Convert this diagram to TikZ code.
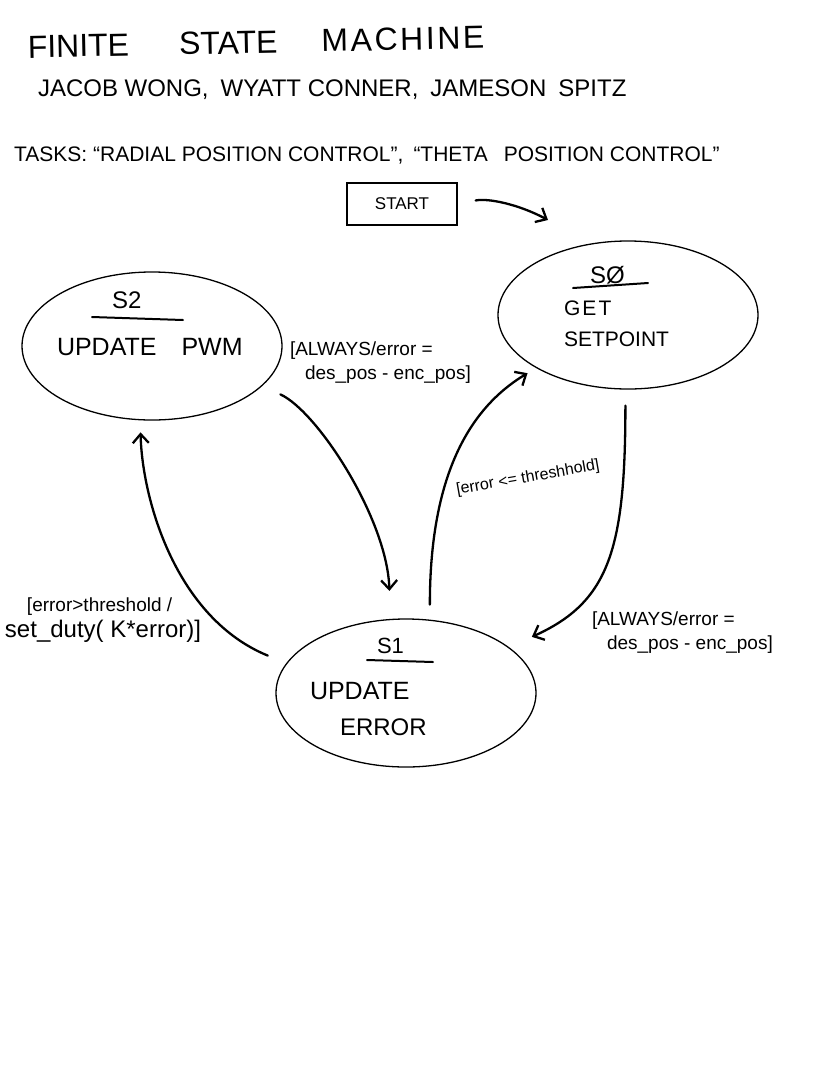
\documentclass[tikz,border=0pt]{standalone}
\usepackage{fontspec}
\setmainfont{Liberation Sans}
\usetikzlibrary{shapes.geometric,arrows.meta}
\begin{document}
\begin{tikzpicture}[x=1pt,y=-1pt,
  state/.style={ellipse,draw,line width=1.3pt,minimum width=260pt,minimum height=148pt,inner sep=0pt},
  hand/.style={inner sep=0pt,outer sep=0pt,text=black},
  conn/.style={line width=2.3pt,line cap=round,-{Straight Barb[length=9pt,width=16pt]}},
  uline/.style={line width=2pt,line cap=round},
  startbox/.style={draw,line width=2pt,minimum width=110pt,minimum height=42pt,inner sep=0pt},
  lbl/.style={hand,anchor=north west,align=left,font=\fontsize{19}{24}\selectfont}]
\fill[white] (0,0) rectangle (834,1077);
\useasboundingbox (0,0) rectangle (834,1077);

% header
\node[hand,anchor=base west,rotate=1.2] (title) at (28,58)
  {\fontsize{32}{38}\selectfont FINITE\hspace{50pt}STATE\hspace{44pt}{\addfontfeature{LetterSpace=8}MACHINE}};
\node[hand,anchor=base west] (authors) at (38,96)
  {\fontsize{24}{28}\selectfont JACOB WONG,\hspace{12pt}WYATT CONNER,\hspace{12pt}JAMESON\hspace{12pt}SPITZ};
\node[hand,anchor=base west] (tasks) at (14,161)
  {\fontsize{21}{25}\selectfont TASKS:\hspace{6pt}“RADIAL POSITION CONTROL”,\hspace{10pt}“THETA\hspace{16pt}POSITION CONTROL”};

% start
\node[startbox] (start) at (402,204) {\fontsize{17}{20}\selectfont START};
\coordinate (entry) at (548,220);
\draw[conn,shorten <=18pt] (start.east) .. controls +(30,-6) and +(-30,-16) .. (entry);

% states
\node[state] (s2) at (152,346) {};
\node[state] (s0) at (628,315) {};
\node[state] (s1) at (406,693) {};

\node[hand,anchor=base west] (s2id) at (112,308) {\fontsize{24}{28}\selectfont S2};
\draw[uline] (92,317) -- (183,320);
\node[hand,anchor=base west] (s2txt) at (57,355) {\fontsize{25}{30}\selectfont UPDATE\hspace{25pt}PWM};

\node[hand,anchor=base west] (s0id) at (590,283) {\fontsize{24}{28}\selectfont SØ};
\draw[uline] (573,288) -- (648,283);
\node[hand,anchor=base west] (s0a) at (564,315) {\fontsize{21}{25}\selectfont\addfontfeature{LetterSpace=10}GET};
\node[hand,anchor=base west] (s0b) at (564,346) {\fontsize{21}{25}\selectfont SETPOINT};

\node[hand,anchor=base west] (s1id) at (377,653) {\fontsize{22}{26}\selectfont S1};
\draw[uline] (367,660) -- (433,662);
\node[hand,anchor=base west] (s1a) at (310,699) {\fontsize{25}{30}\selectfont UPDATE};
\node[hand,anchor=base west] (s1b) at (340,735) {\fontsize{24}{28}\selectfont ERROR};

% transition labels
\node[lbl] (l1) at (290,342) {[ALWAYS/error =\\\hspace*{15pt}des\_pos - enc\_pos]};
\node[hand,rotate=10] (l2) at (528,478)
  {\fontsize{16}{19}\selectfont [error <= threshhold]};
\node[lbl,font=\fontsize{19}{26}\selectfont] (l3) at (5,598)
  {\hspace*{22pt}[error>threshold /\\\fontsize{24}{26}\selectfont set\_duty( K*error)]};
\node[lbl] (l4) at (592,612) {[ALWAYS/error =\\\hspace*{15pt}des\_pos - enc\_pos]};

% transitions
\draw[conn,shorten <=20pt,shorten >=28pt] (s2.-20) .. controls +(55,25) and +(-3,-100) .. (s1.102);
\draw[conn,shorten <=15pt,shorten >=10pt] (s1.72) .. controls +(0,-130) and +(-75,45) .. (s0.-150);
\draw[conn,shorten <=16pt,shorten >=25pt] (s0.-92) .. controls +(0,160) and +(100,-45) .. (s1.24);
\draw[conn,shorten <=20pt,shorten >=12pt] (s1.166) .. controls +(-110,-45) and +(2,80) .. (s2.-99);
\end{tikzpicture}
\end{document}
